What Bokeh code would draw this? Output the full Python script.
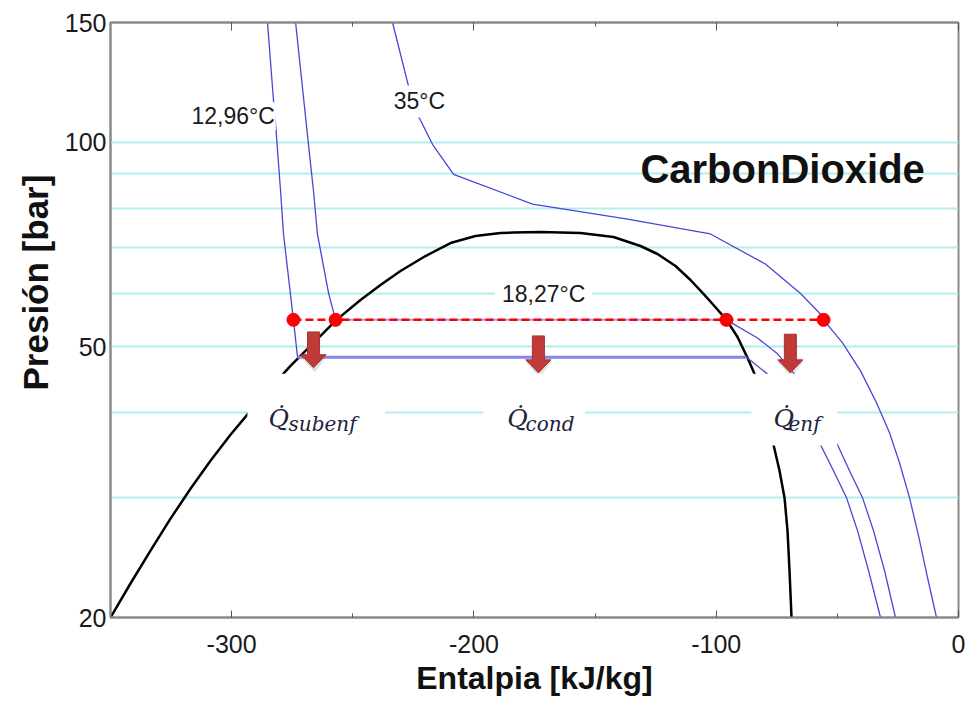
from bokeh.plotting import figure
from bokeh.models import (Range1d, FixedTicker, LinearAxis, Label, BoxAnnotation,
                          NumeralTickFormatter, Title)
from bokeh.embed import file_html
from bokeh.resources import INLINE

# ---------------- data ----------------
x_ticks = [-300, -200, -100, 0]
x_tick_labels = ["-300", "-200", "-100", "0"]
x_minor_ticks = [-350, -250, -150, -50]
y_ticks = [20, 50, 100, 150]
y_tick_labels = ["20", "50", "100", "150"]
y_grid = [30, 40, 50, 60, 70, 80, 90, 100]

# saturation dome (enthalpy kJ/kg, pressure bar)
dome_h = [-350, -341.75, -333.49, -325.24, -316.98, -308.73, -300.48, -292.22, -283.97,
          -275.71, -267.46, -256.73, -246.82, -238.56, -230.31, -219.99, -209.67, -199.35,
          -189.03, -183.67, -172.52, -156.01, -142.39, -131.25, -124.23, -116.80, -110.61,
          -105.24, -101.12, -95.75, -91.21, -87.08, -82.96, -79.65, -76.35, -73.87, -71.81,
          -70.57, -69.75, -68.92]
dome_p = [20, 22.44, 25.09, 27.95, 30.93, 34.01, 37.13, 40.27, 43.53,
          46.89, 50.17, 54.79, 58.62, 61.66, 64.66, 68.02, 71.08, 72.78,
          73.53, 73.65, 73.78, 73.53, 72.54, 70.37, 68.49, 65.76, 62.72,
          59.82, 57.63, 54.79, 51.71, 48.18, 44.57, 40.27, 35.90, 32.88, 30.01,
          26.84, 23.45, 20]

# isotherm 12,96 °C
t1296_liq_h = [-285.2, -282.7, -281.9, -279.8, -278.6, -274.5, -272.8]
t1296_liq_p = [150, 114.9, 106.7, 84.7, 73.3, 54.8, 48.3]
t1296_sat_h = [-272.8, -87.5]
t1296_sat_p = [48.3, 48.3]
t1296_vap_h = [-87.5, -78.8, -56.95, -51.59, -46.22, -41.68, -37.14, -32.19]
t1296_vap_p = [48.3, 45.6, 35.90, 32.88, 30.01, 26.84, 23.45, 20]

# isotherm 18,27 °C
t1827_liq_h = [-273.6, -268.3, -266.2, -264.6, -260, -257.1]
t1827_liq_p = [150, 99.3, 84.7, 73.3, 60, 54.8]
t1827_sat_h = [-257.1, -95.8]
t1827_sat_p = [54.8, 54.8]
t1827_vap_h = [-95.8, -82.96, -74.70, -68.10, -49.94, -44.99, -39.62, -35.08, -30.54, -26.00]
t1827_vap_p = [54.8, 51.54, 48.84, 45.79, 35.90, 32.88, 30.01, 26.84, 23.45, 20]

# isotherm 35 °C
t35_h = [-233.6, -227, -222.9, -217.1, -208.4, -175.8, -136.6, -102.4, -79.7, -65.2, -57,
         -55.72, -47.87, -40.44, -33.84, -28.48, -24.35, -20.22, -16.51, -12.79, -9.08]
t35_p = [150, 120.9, 109.2, 99.3, 89.7, 81.1, 77.1, 73.3, 66.2, 59.9, 55.9,
         54.79, 50.68, 46.11, 41.38, 37.38, 33.78, 30.01, 26.39, 22.90, 20]

# condenser states (red points)
pts_h = [-274.5, -257.1, -95.8, -55.7]
pts_p = [54.8, 54.8, 54.8, 54.8]

# heat arrows
arrow_h = [-266.2, -173.4, -69.4]
arrow_top = [52.6, 51.9, 52.2]
arrow_tip = [46.6, 45.8, 45.8]

# ---------------- figure ----------------
p = figure(width=966, height=713, x_range=Range1d(-350, 0), y_range=Range1d(20, 150),
           y_axis_type="log", output_backend="svg", toolbar_location=None,
           min_border_left=110, min_border_right=8, min_border_top=22, min_border_bottom=96)
p.background_fill_color = "white"
p.border_fill_color = "white"
p.outline_line_color = "#8a8a8a"
p.outline_line_width = 2

SANS = "Liberation Sans"

# x axis
xa = p.xaxis[0]
xa.ticker = FixedTicker(ticks=x_ticks, minor_ticks=x_minor_ticks)
xa.major_label_overrides = {t: l for t, l in zip(x_ticks, x_tick_labels)}
xa.major_tick_in = 7
xa.major_tick_out = 0
xa.minor_tick_in = 4
xa.minor_tick_out = 0
xa.major_tick_line_color = "#555555"
xa.minor_tick_line_color = "#555555"
xa.axis_line_color = "#8a8a8a"
xa.axis_line_width = 2
xa.major_label_text_font = SANS
xa.major_label_text_font_size = "25px"
xa.major_label_text_color = "#1a1a1a"
xa.major_label_standoff = 17
xa.axis_label = "Entalpia [kJ/kg]"
xa.axis_label_text_font = SANS
xa.axis_label_text_font_style = "bold"
xa.axis_label_text_font_size = "32px"
xa.axis_label_text_color = "#111111"
xa.axis_label_standoff = 4

# top axis (ticks only)
ta = LinearAxis(ticker=FixedTicker(ticks=x_ticks, minor_ticks=x_minor_ticks),
                major_tick_in=8, major_tick_out=0, minor_tick_in=4, minor_tick_out=0,
                major_tick_line_color="#555555", minor_tick_line_color="#555555",
                axis_line_color="#8a8a8a", axis_line_width=2,
                major_label_text_font_size="1px", major_label_text_alpha=0,
                major_label_standoff=0)
p.add_layout(ta, "above")

# y axis
ya = p.yaxis[0]
ya.ticker = FixedTicker(ticks=y_ticks, minor_ticks=[])
ya.formatter = NumeralTickFormatter(format="0")
ya.major_label_overrides = {t: l for t, l in zip(y_ticks, y_tick_labels)}
ya.major_tick_line_color = None
ya.minor_tick_line_color = None
ya.major_tick_out = 0
ya.major_tick_in = 0
ya.axis_line_color = "#8a8a8a"
ya.axis_line_width = 2
ya.major_label_text_font = SANS
ya.major_label_text_font_size = "25px"
ya.major_label_text_color = "#1a1a1a"
ya.major_label_standoff = 4

# y axis title as a side title, starting above the frame bottom like in the reference
p.add_layout(Title(text="Presión [bar]", align="left", offset=227, standoff=13,
                   text_font=SANS, text_font_style="bold", text_font_size="35px",
                   text_color="#111111"), "left")

# grid
p.xgrid.visible = False
p.ygrid.ticker = FixedTicker(ticks=y_grid)
p.ygrid.grid_line_color = "#b2eeee"
p.ygrid.grid_line_width = 2
p.ygrid.minor_grid_line_color = None

# ---------------- curves ----------------
BLUE = "#4747d6"
p.line(dome_h, dome_p, line_color="black", line_width=2.5, line_join="round")

p.line(t1296_liq_h, t1296_liq_p, line_color=BLUE, line_width=1.3)
p.line(t1296_vap_h, t1296_vap_p, line_color=BLUE, line_width=1.3)
p.line(t1296_sat_h, t1296_sat_p, line_color="#8585e6", line_width=3)

p.line(t1827_liq_h, t1827_liq_p, line_color=BLUE, line_width=1.3)
p.line(t1827_vap_h, t1827_vap_p, line_color=BLUE, line_width=1.3)
p.line(t1827_sat_h, t1827_sat_p, line_color="#9a9aee", line_width=2)

p.line(t35_h, t35_p, line_color=BLUE, line_width=1.3)

# condenser line and states
p.line([pts_h[0], pts_h[-1]], [pts_p[0], pts_p[-1]], line_color="#ff0000", line_width=2.5,
       line_dash="8 4")
p.scatter(pts_h, pts_p, size=13, fill_color="#ff0000", line_color="#ff0000")

# arrows (block arrows built around each arrow position)
px_h = 350.0 / 848.0
shw, hhw = 6 * px_h, 12.5 * px_h
xs, ys, sxs, sys_ = [], [], [], []
for c, top, tip in zip(arrow_h, arrow_top, arrow_tip):
    neck = tip * 1.045
    xs.append([c - shw, c + shw, c + shw, c + hhw, c, c - hhw, c - shw])
    ys.append([top, top, neck, neck, tip, neck, neck])
    d = 1.2 * px_h
    sxs.append([c - hhw - d, c + hhw + d, c + d])
    sys_.append([neck * 0.995, neck * 0.995, tip * 0.985])
p.patches(sxs, sys_, fill_color="#888888", fill_alpha=0.25, line_color=None)
p.patches(xs, ys, fill_color="#c03a3a", line_color="#a83030", line_width=1)

# ---------------- annotations ----------------
for l, r in [(-293.5, -236.5), (-196.1, -154.0), (-85.5, -50.0)]:
    p.add_layout(BoxAnnotation(left=l, right=r, bottom=35.8, top=45.65, fill_color="white",
                               fill_alpha=1.0, line_color=None))

def tlabel(x, y, text, pad=2):
    p.add_layout(Label(x=x, y=y, text=text, text_font=SANS, text_font_size="23px",
                       text_color="#1a1a1a", text_align="center", text_baseline="middle",
                       background_fill_color="white", padding=pad))

tlabel(-299.4, 109.2, "12,96°C", 1)
tlabel(-222.5, 114.8, "35°C", 3)
tlabel(-171.2, 59.9, "18,27°C", 7)

p.add_layout(Label(x=-131.3, y=91.3, text="CarbonDioxide", text_font=SANS,
                   text_font_size="40px", text_font_style="bold", text_color="#111111",
                   text_align="left", text_baseline="alphabetic"))

QCOL = "#22223c"
for qx, sx, sub in [(-284.8, -276.5, "subenf"), (-186.2, -178.7, "cond"), (-76.4, -70.2, "enf")]:
    p.add_layout(Label(x=qx, y=39.2, text="Q\u0307", text_font="DejaVu Serif",
                       text_font_style="italic", text_font_size="25px", text_color=QCOL,
                       text_align="left", text_baseline="alphabetic"))
    p.add_layout(Label(x=sx, y=38.55, text=sub, text_font="DejaVu Serif",
                       text_font_style="italic", text_font_size="20px", text_color=QCOL,
                       text_align="left", text_baseline="alphabetic"))

open("out.html", "w").write(file_html(p, INLINE))
